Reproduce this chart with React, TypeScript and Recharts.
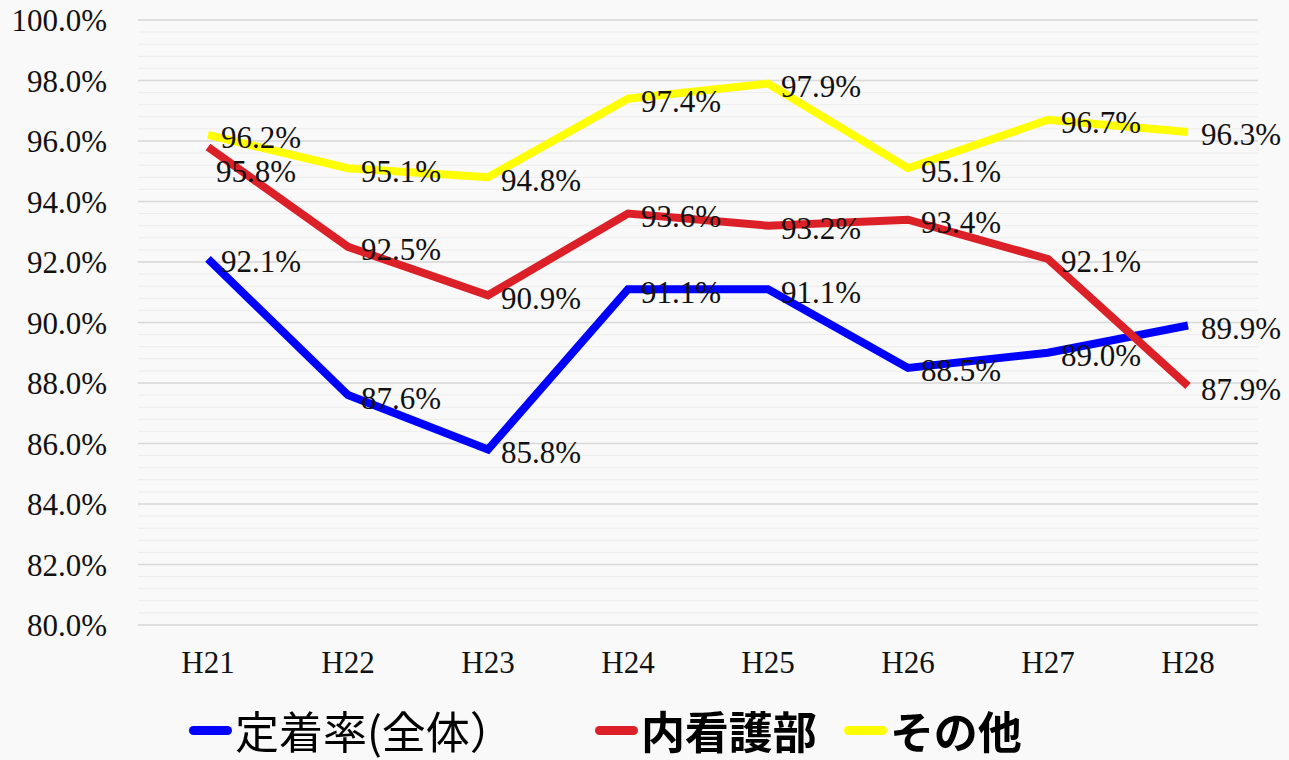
import React from "react";
import { LineChart, Line, XAxis, YAxis, CartesianGrid, Legend, LabelList } from "recharts";

const years = ["H21", "H22", "H23", "H24", "H25", "H26", "H27", "H28"];
const overall = [92.1, 87.6, 85.8, 91.1, 91.1, 88.5, 89.0, 89.9];
const nursing = [95.8, 92.5, 90.9, 93.6, 93.2, 93.4, 92.1, 87.9];
const others = [96.2, 95.1, 94.8, 97.4, 97.9, 95.1, 96.7, 96.3];
const yTicks = [80, 82, 84, 86, 88, 90, 92, 94, 96, 98, 100];
// faint minor gridlines every 0.4 pt
const minorTicks = Array.from({ length: 51 }, (_, i) => +(80 + i * 0.4).toFixed(1));

const SERIES = [
  { key: "overall", name: "定着率(全体）", color: "#0000ff", bold: false },
  { key: "nursing", name: "内看護部", color: "#dc2028", bold: true },
  { key: "others", name: "その他", color: "#ffff00", bold: true },
];

const data = years.map((y, i) => ({
  year: y,
  overall: overall[i],
  nursing: nursing[i],
  others: others[i],
}));

const NUM_FONT = "Liberation Serif, DejaVu Serif, serif";
const CJK_FONT = "'Noto Sans CJK JP', sans-serif";

const pct = (v: number) => `${v.toFixed(1)}%`;

function makeLabel(seriesKey: string) {
  return (props: any) => {
    const { x, y, value, index } = props;
    // the first 内看護部 label sits under its point, the rest to the right
    const below = seriesKey === "nursing" && index === 0;
    return (
      <text
        x={x + (below ? 8 : 13)}
        y={y + (below ? 24 : 3)}
        textAnchor="start"
        dominantBaseline="central"
        fontFamily={NUM_FONT}
        fontSize={31}
        fill="#111"
      >
        {pct(value)}
      </text>
    );
  };
}

function ChartLegend() {
  return (
    <div style={{ display: "flex", alignItems: "center", height: 60, paddingLeft: 189 }}>
      {SERIES.map((s, i) => (
        <div key={s.key} style={{ display: "flex", alignItems: "center", marginRight: i === 0 ? 81 : 27 }}>
          <div style={{ width: 43, height: 9, borderRadius: 5, background: s.color }} />
          <span
            style={{
              fontFamily: CJK_FONT,
              fontSize: 44,
              fontWeight: s.bold ? 700 : 400,
              color: "#000",
              lineHeight: "60px",
              marginLeft: 3,
            }}
          >
            {s.name}
          </span>
        </div>
      ))}
    </div>
  );
}

export default function App() {
  return (
    <div style={{ position: "fixed", left: 0, top: 0, width: 1289, height: 760, background: "#f9f9f9" }}>
      <LineChart width={1289} height={760} data={data} margin={{ top: 20, right: 31, bottom: 0, left: 0 }}>
        <CartesianGrid horizontalValues={minorTicks} vertical={false} stroke="#ececec" strokeWidth={1} />
        <CartesianGrid vertical={false} stroke="#d9d9d9" strokeWidth={1.5} />
        <XAxis
          dataKey="year"
          axisLine={false}
          tickLine={false}
          tickSize={0}
          tickMargin={26}
          height={75}
          padding={{ left: 70, right: 70 }}
          tick={{ fontFamily: NUM_FONT, fontSize: 31, fill: "#111" }}
        />
        <YAxis
          domain={[80, 100]}
          ticks={yTicks}
          interval={0}
          axisLine={false}
          tickLine={false}
          tickSize={0}
          tickMargin={31}
          width={138}
          tickFormatter={pct}
          tick={{ fontFamily: NUM_FONT, fontSize: 31, fill: "#111" }}
        />
        <Legend verticalAlign="bottom" content={<ChartLegend />} />
        {SERIES.map((s) => (
          <Line
            key={s.key}
            dataKey={s.key}
            name={s.name}
            stroke={s.color}
            strokeWidth={8}
            dot={false}
            activeDot={false}
            isAnimationActive={false}
          >
            <LabelList dataKey={s.key} content={makeLabel(s.key)} />
          </Line>
        ))}
      </LineChart>
    </div>
  );
}
